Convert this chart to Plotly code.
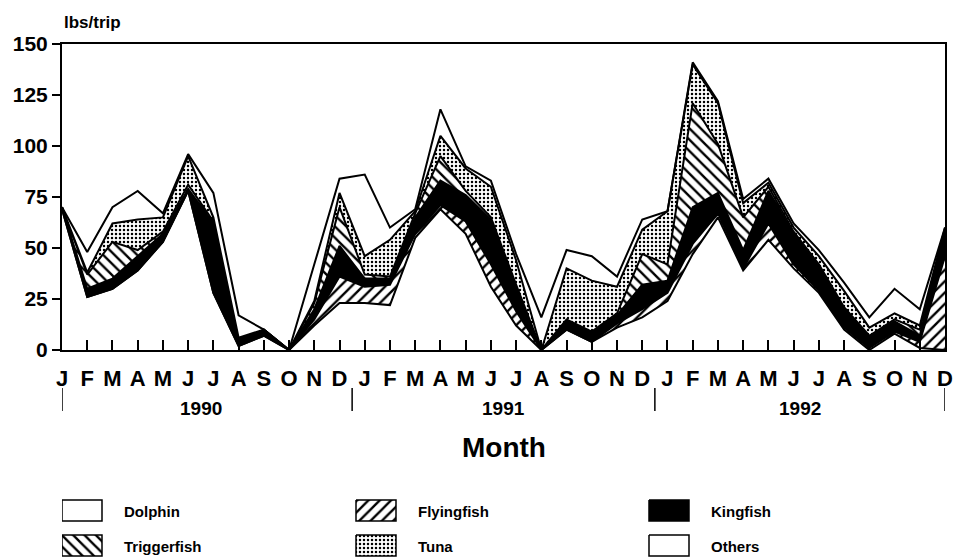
import plotly.graph_objects as go

# monthly landings, lbs/trip, Jan 1990 - Dec 1992
month_letters = ["J", "F", "M", "A", "M", "J", "J", "A", "S", "O", "N", "D"] * 3
years = ["1990", "1991", "1992"]

dolphin = [69, 26, 30, 39, 53, 78, 28, 2, 7, 0, 12, 23,
           23, 22, 55, 69, 57, 31, 12, 0, 10, 4, 11, 16,
           24, 47, 65, 39, 54, 40, 28, 10, 0, 8, 1, 0]
flyingfish = [0, 0, 0, 0, 0, 0, 0, 0, 0, 0, 3, 13,
              8, 10, 2, 2, 6, 11, 7, 0, 0, 0, 2, 4,
              4, 5, 2, 1, 8, 2, 1, 1, 1, 1, 3, 46]
kingfish = [1, 4, 5, 7, 4, 1, 34, 4, 3, 0, 5, 15,
            4, 3, 8, 12, 13, 22, 12, 0, 5, 5, 4, 12,
            6, 18, 10, 9, 16, 15, 12, 9, 6, 5, 3, 12]
triggerfish = [0, 7, 18, 3, 1, 2, 1, 0, 0, 0, 3, 19,
               2, 1, 2, 12, 2, 1, 1, 0, 0, 0, 1, 15,
               8, 51, 24, 16, 2, 1, 1, 1, 0, 1, 3, 1]
tuna = [0, 1, 9, 15, 7, 14, 2, 0, 0, 0, 1, 7,
        9, 18, 1, 10, 11, 15, 12, 0, 25, 25, 13, 12,
        26, 19, 20, 7, 2, 2, 4, 8, 4, 3, 2, 1]
others = [0, 10, 8, 14, 2, 1, 12, 11, 0, 0, 18, 7,
          40, 6, 1, 13, 1, 3, 3, 16, 9, 12, 5, 5,
          0, 1, 1, 2, 2, 2, 3, 4, 5, 12, 8, 0]

x = list(range(len(month_letters)))

# stacking order bottom -> top, same as legend order
series = [
    ("Dolphin", dolphin, "white", None),
    ("Flyingfish", flyingfish, "white", dict(shape="/", size=8, solidity=0.3)),
    ("Kingfish", kingfish, "black", None),
    ("Triggerfish", triggerfish, "white", dict(shape="\\", size=8, solidity=0.3)),
    ("Tuna", tuna, "white", dict(shape=".", size=4, solidity=0.3)),
    ("Others", others, "white", None),
]

FONT = "Liberation Sans"
H = 560  # figure height, paper coords below are worked out from pixel rows


def py(row):
    # pixel row -> paper y (bottom margin is 0, top margin 44)
    return (H - row) / (H - 44)


def patt(p):
    return dict(fgcolor="black", bgcolor="white", fgopacity=1, **p) if p else None


fig = go.Figure()
for name, vals, fillc, pat in series:
    fig.add_trace(go.Scatter(x=x, y=vals, name=name, mode="lines",
                             stackgroup="one", fillcolor=fillc,
                             fillpattern=patt(pat),
                             line=dict(color="black", width=2),
                             showlegend=False))

# hand made legend, 3 columns x 2 rows, drawn on its own pixel-scaled axes
sw_w, sw_h = 40, 21
col_x = [62, 356, 649]
row_y = [500, 535]
for k, (name, vals, fillc, pat) in enumerate(series):
    r, c = divmod(k, 3)
    x0, y0 = col_x[c], row_y[r]
    fig.add_trace(go.Scatter(x=[x0, x0 + sw_w, x0 + sw_w, x0, x0],
                             y=[y0, y0, y0 + sw_h, y0 + sw_h, y0],
                             xaxis="x2", yaxis="y2", mode="lines",
                             fill="toself", fillcolor=fillc,
                             fillpattern=patt(pat),
                             line=dict(color="black", width=1.5),
                             showlegend=False, hoverinfo="skip"))
    fig.add_annotation(x=x0 + 60, y=y0 + sw_h / 2 + 1, xref="x2", yref="y2",
                       text=name, showarrow=False, xanchor="left",
                       yanchor="middle",
                       font=dict(family=FONT, size=15, color="black", weight="bold"))

fig.update_layout(
    xaxis=dict(range=[0, 35], tickvals=x, ticktext=month_letters,
               ticks="inside", ticklen=10, tickwidth=2, tickcolor="black",
               ticklabelstandoff=8, ticklabeloverflow="allow", automargin=False,
               showline=True, linecolor="black", linewidth=2, mirror=True,
               showgrid=False, zeroline=False,
               tickfont=dict(family=FONT, size=22, color="black", weight="bold")),
    yaxis=dict(domain=[py(350), 1], range=[0, 150],
               tickvals=[0, 25, 50, 75, 100, 125, 150], automargin=False,
               ticks="outside", ticklen=8, tickwidth=2, tickcolor="black",
               showline=True, linecolor="black", linewidth=2, mirror=True,
               showgrid=False, zeroline=False,
               tickfont=dict(family=FONT, size=21, color="black", weight="bold")),
    xaxis2=dict(domain=[0, 1], range=[62, 945], anchor="y2", visible=False,
                fixedrange=True, automargin=False),
    yaxis2=dict(domain=[0, py(490)], range=[560, 490], anchor="x2",
                visible=False, fixedrange=True, automargin=False),
)

# year separators and labels under the month letters
for sep in [0, 11.5, 23.5, 35]:
    fig.add_shape(type="line", xref="x", yref="paper", x0=sep, x1=sep,
                  y0=py(388), y1=py(411), line=dict(color="black", width=1.5))
for i, yr in enumerate(years):
    fig.add_annotation(x=5.5 + 12 * i - (0.25 if i == 2 else 0), y=py(409),
                       xref="x", yref="paper", text=yr, showarrow=False,
                       yanchor="middle",
                       font=dict(family=FONT, size=19, color="black", weight="bold"))

fig.add_annotation(x=0.5, y=py(447), xref="paper", yref="paper", text="Month",
                   showarrow=False, yanchor="middle",
                   font=dict(family=FONT, size=28, color="black", weight="bold"))
fig.add_annotation(x=0, y=py(23), xref="paper", yref="paper", text="lbs/trip",
                   showarrow=False, xanchor="left", yanchor="middle",
                   font=dict(family=FONT, size=17, color="black", weight="bold"))

fig.update_layout(
    width=955, height=H,
    margin=dict(l=62, r=10, t=44, b=0),
    paper_bgcolor="white", plot_bgcolor="white",
    showlegend=False,
)

# the page body has a default 8px margin; drop it so the figure sits at 0,0
fig.write_html("out.html", config={"displayModeBar": False},
               post_script="document.body.style.margin = '0';")
